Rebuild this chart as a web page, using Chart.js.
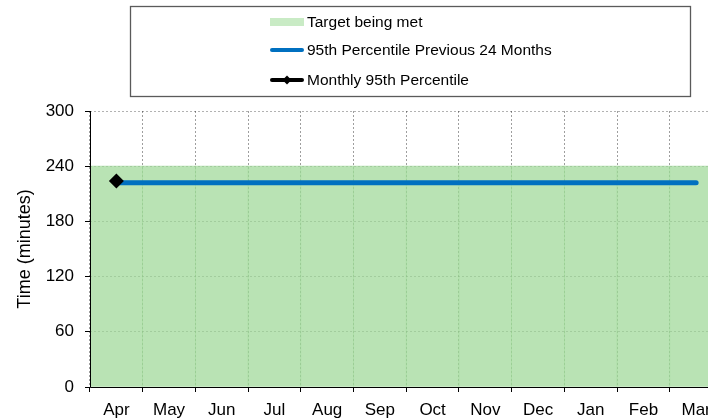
<!DOCTYPE html>
<html>
<head>
<meta charset="utf-8">
<script src="https://cdn.jsdelivr.net/npm/chart.js@4/dist/chart.umd.min.js"></script>
<style>
html,body{margin:0;padding:0;background:#fff;overflow:hidden;}
#wrap{position:relative;width:730px;height:419px;}
</style>
</head>
<body>
<div id="wrap"><canvas id="c" width="730" height="419"></canvas></div>
<script>
// ---- data ----
const months = ['Apr','May','Jun','Jul','Aug','Sep','Oct','Nov','Dec','Jan','Feb','Mar'];
const targetValues = [240,240,240,240,240,240,240,240,240,240,240,240];
const previous24Values = [222,222,222,222,222,222,222,222,222,222,222,222];
const monthlyValues = [224,null,null,null,null,null,null,null,null,null,null,null];
const yTicks = [0,60,120,180,240,300];
const seriesLabels = ['Target being met','95th Percentile Previous 24 Months','Monthly 95th Percentile'];
const yTitle = 'Time (minutes)';

const FONT = '"Liberation Sans", Arial, sans-serif';

const solidAxes = {
  id: 'solidAxes',
  afterDatasetsDraw(chart) {
    const {ctx, chartArea: a} = chart;
    ctx.save();
    ctx.strokeStyle = '#000';
    ctx.lineWidth = 1;
    ctx.setLineDash([]);
    ctx.beginPath();
    ctx.moveTo(Math.round(a.left) + 0.5, a.top);
    ctx.lineTo(Math.round(a.left) + 0.5, Math.round(a.bottom) + 0.5);
    ctx.lineTo(a.right, Math.round(a.bottom) + 0.5);
    ctx.stroke();
    ctx.restore();
  }
};

const boxLegend = {
  id: 'boxLegend',
  afterDraw(chart) {
    const ctx = chart.ctx;
    ctx.save();
    ctx.strokeStyle = '#5a5a5a';
    ctx.lineWidth = 1.3;
    ctx.strokeRect(130.5, 6.5, 560, 90);
    const rows = [22, 50, 80];
    const x0 = 270, x1 = 304;
    ctx.font = '15.5px ' + FONT;
    ctx.textBaseline = 'middle';
    ctx.textAlign = 'left';
    chart.data.datasets.forEach((ds, i) => {
      const y = rows[i];
      if (ds.type === 'bar') {
        ctx.fillStyle = ds.legendColor || ds.backgroundColor;
        ctx.fillRect(x0, y - 4, x1 - x0, 8);
      } else {
        ctx.strokeStyle = ds.borderColor;
        ctx.lineWidth = 4;
        ctx.lineCap = 'round';
        ctx.beginPath();
        ctx.moveTo(x0 + 2, y);
        ctx.lineTo(x1 - 2, y);
        ctx.stroke();
        if (ds.pointRadius > 0) {
          ctx.fillStyle = ds.pointBackgroundColor;
          ctx.beginPath();
          const cx = (x0 + x1) / 2, r = 4.5;
          ctx.moveTo(cx, y - r); ctx.lineTo(cx + r, y); ctx.lineTo(cx, y + r); ctx.lineTo(cx - r, y);
          ctx.closePath();
          ctx.fill();
        }
      }
      ctx.fillStyle = '#000';
      ctx.fillText(ds.label, 307, y + 0.5);
    });
    ctx.restore();
  }
};

new Chart(document.getElementById('c'), {
  type: 'bar',
  data: {
    labels: months,
    datasets: [
      {
        type: 'bar',
        label: seriesLabels[0],
        data: targetValues,
        backgroundColor: 'rgba(155,215,148,0.7)',
        legendColor: '#c9ebc5',
        borderWidth: 0,
        barPercentage: 1,
        categoryPercentage: 1,
        order: 3
      },
      {
        type: 'line',
        label: seriesLabels[1],
        data: previous24Values,
        borderColor: '#0070c0',
        backgroundColor: '#0070c0',
        borderWidth: 5,
        borderCapStyle: 'round',
        pointRadius: 0,
        pointHoverRadius: 0,
        fill: false,
        order: 2
      },
      {
        type: 'line',
        label: seriesLabels[2],
        data: monthlyValues,
        borderColor: '#000000',
        backgroundColor: '#000000',
        pointBackgroundColor: '#000000',
        pointBorderColor: '#000000',
        borderWidth: 4,
        pointStyle: 'rectRot',
        pointRadius: 7.5,
        pointBorderWidth: 0,
        fill: false,
        order: 1
      }
    ]
  },
  options: {
    responsive: false,
    animation: false,
    events: [],
    layout: { padding: { top: 111, left: 0, right: 2, bottom: 0 } },
    plugins: { legend: { display: false }, tooltip: { enabled: false }, title: { display: false } },
    scales: {
      x: {
        offset: true,
        grid: { offset: true, color: 'rgba(0,0,0,0.38)', tickColor: '#000', tickLength: 5, drawTicks: true },
        border: { display: false, dash: [2, 2] },
        ticks: { color: '#000', font: { family: FONT, size: 17 }, padding: 8, maxRotation: 0, autoSkip: false },
        afterFit(scale) { scale.height = 32; }
      },
      y: {
        min: 0, max: 300,
        afterBuildTicks(scale) { scale.ticks = yTicks.map(v => ({ value: v })); },
        grid: { color: 'rgba(0,0,0,0.3)', tickColor: '#000', tickLength: 5 },
        border: { display: false, dash: [2, 2] },
        ticks: { color: '#000', font: { family: FONT, size: 17 }, padding: 11 },
        title: { display: true, text: yTitle, color: '#000', font: { family: FONT, size: 18 }, padding: { top: 14, bottom: 0 } },
        afterFit(scale) { scale.width = 90; }
      }
    }
  },
  plugins: [solidAxes, boxLegend]
});
</script>
</body>
</html>
